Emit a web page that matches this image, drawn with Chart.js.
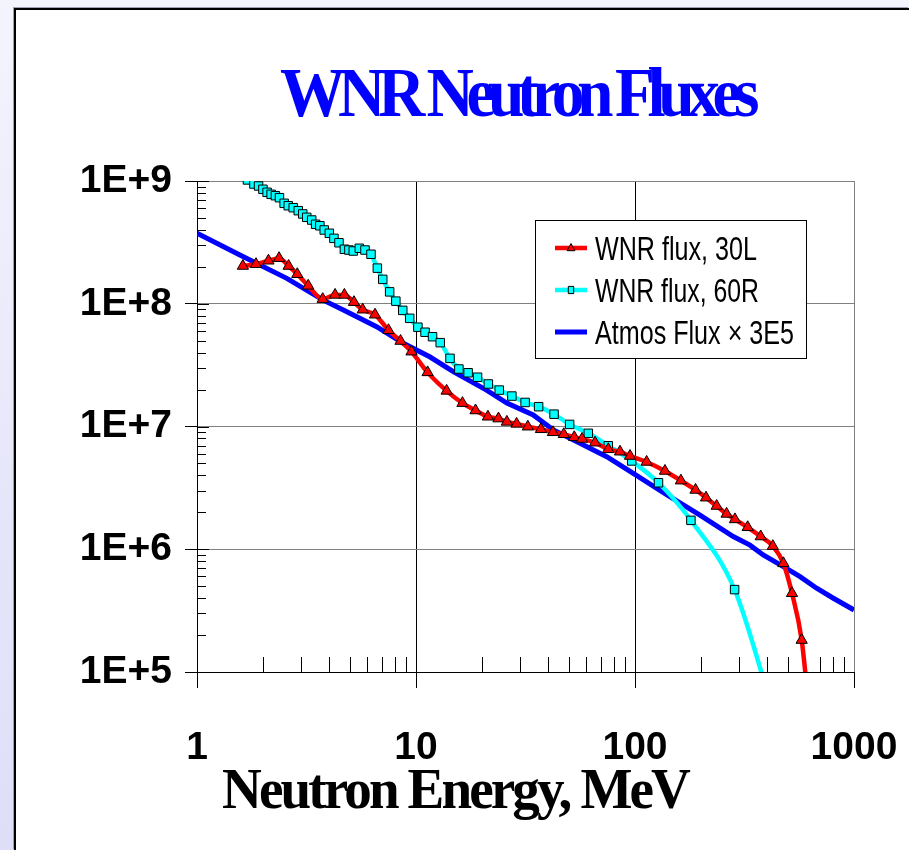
<!DOCTYPE html>
<html>
<head>
<meta charset="utf-8">
<title>WNR Neutron Fluxes</title>
<script src="https://cdn.jsdelivr.net/npm/chart.js@4.4.1/dist/chart.umd.min.js"></script>
<style>
html, body { margin: 0; padding: 0; }
body {
    width: 909px; height: 850px; overflow: hidden; position: relative;
    background: linear-gradient(to bottom, #f4f4fd 0%, #e6e6fa 60%, #dedef8 100%);
}
#panel {
    position: absolute; left: 14px; top: 8px; right: 0; bottom: 0;
    background: #fff;
    border-left: 2px solid #000; border-top: 2px solid #000;
    box-shadow: -1px -1px 0 #a0a0b0;
}
#chart { position: absolute; left: 0; top: 0; }
</style>
</head>
<body>
<div id="panel"></div>
<canvas id="chart" width="909" height="850"></canvas>
<script>
// Series: neutron energy (MeV) and flux
const energy30L = [1.62, 1.86, 2.12, 2.37, 2.62, 2.87, 3.22, 3.75, 4.27, 4.71,
    5.21, 5.71, 6.5, 7.49, 8.5, 9.54, 11.3, 13.8, 16.3, 18.7,
    21.3, 23.8, 26, 28.8, 32.4, 37.2, 42.2, 47.3, 52.8, 57.3,
    65.7, 75.5, 85.4, 94.9, 113, 137, 162, 189, 211, 236,
    262, 286, 327, 375, 426, 476, 521, 577, 617];
const flux30L = [2.03e8, 2.10e8, 2.24e8, 2.35e8, 2.03e8, 1.74e8, 1.40e8, 1.09e8, 1.18e8, 1.18e8,
    1.03e8, 8.94e7, 8.14e7, 6.08e7, 4.97e7, 4.07e7, 2.76e7, 1.95e7, 1.55e7, 1.35e7,
    1.20e7, 1.16e7, 1.09e7, 1.05e7, 9.96e6, 9.49e6, 8.97e6, 8.64e6, 8.17e6, 7.91e6,
    7.38e6, 6.52e6, 6.23e6, 5.75e6, 5.14e6, 4.34e6, 3.62e6, 3.04e6, 2.63e6, 2.25e6,
    1.94e6, 1.75e6, 1.51e6, 1.27e6, 1.06e6, 7.68e5, 4.38e5, 1.82e5, 5.9e4];

const energy60R = [1.51, 1.70, 1.82, 1.91, 2.00, 2.09, 2.18, 2.28, 2.38, 2.50,
    2.61, 2.75, 2.90, 3.04, 3.17, 3.34, 3.48, 3.64, 3.81, 4.02,
    4.22, 4.45, 4.71, 4.94, 5.17, 5.51, 5.85, 6.23, 6.66, 7.05,
    7.58, 8.09, 8.70, 9.36, 10.2, 11.0, 11.9, 12.9, 14.3, 15.7,
    17.3, 19.1, 21.4, 24.0, 27.4, 31.5, 36.3, 42.7, 50.3, 61.2,
    75.5, 96.6, 128, 180, 285, 413];
const flux60R = [1.18e9, 1.02e9, 9.45e8, 9.11e8, 8.56e8, 8.09e8, 7.79e8, 7.59e8, 7.31e8, 6.58e8,
    6.29e8, 6.06e8, 5.73e8, 5.39e8, 5.06e8, 4.81e8, 4.44e8, 4.32e8, 3.99e8, 3.75e8,
    3.41e8, 3.14e8, 2.78e8, 2.74e8, 2.69e8, 2.83e8, 2.74e8, 2.53e8, 1.95e8, 1.58e8,
    1.25e8, 1.05e8, 8.83e7, 7.61e7, 6.44e7, 5.86e7, 5.39e7, 4.82e7, 3.59e7, 2.94e7,
    2.74e7, 2.52e7, 2.22e7, 1.98e7, 1.77e7, 1.57e7, 1.45e7, 1.26e7, 1.04e7, 8.80e6,
    6.97e6, 5.24e6, 3.48e6, 1.72e6, 4.69e5, 5.9e4];

const energyAtmos = [1, 1.57, 2.57, 3.77, 4.66, 6.61, 8.75, 11.6, 14.8, 21.0,
    26.0, 34.3, 42.4, 56.1, 74.3, 98.2, 140, 198, 281, 335,
    385, 476, 567, 675, 805, 1000];
const fluxAtmos = [3.75e8, 2.50e8, 1.61e8, 1.07e8, 8.89e7, 6.50e7, 4.76e7, 3.68e7, 2.80e7, 1.98e7,
    1.55e7, 1.24e7, 9.37e6, 7.30e6, 5.68e6, 4.16e6, 2.77e6, 1.90e6, 1.27e6, 1.08e6,
    8.98e5, 7.21e5, 5.98e5, 4.81e5, 3.99e5, 3.20e5];

const seriesLabels = ['WNR flux, 30L', 'WNR flux, 60R', 'Atmos Flux \u00d7 3E5'];
const xTicks = [1, 10, 100, 1000];
const xTickLabels = ['1', '10', '100', '1000'];
const yTicks = [1e5, 1e6, 1e7, 1e8, 1e9];
const yTickLabels = ['1E+5', '1E+6', '1E+7', '1E+8', '1E+9'];
const minorSteps = [2, 3, 4, 5, 6, 7, 8, 9];
const chartTitle = 'WNR Neutron Fluxes';
const xAxisTitle = 'Neutron Energy, MeV';

const toPoints = (xs, ys) => xs.map((x, i) => ({ x: x, y: ys[i] }));

// hide markers that fall outside the plotted range
function markerRadius(r) {
    return function(ctx) {
        const v = ctx.raw ? ctx.raw.y : null;
        return v !== null && v >= yTicks[0] && v <= yTicks[yTicks.length - 1] * 1.05 ? r : 0;
    };
}

// draw text squeezed horizontally (the original fonts are very condensed)
function drawSqueezed(ctx, text, x, y, opts) {
    ctx.save();
    ctx.font = opts.font;
    ctx.fillStyle = opts.color || '#000';
    ctx.textBaseline = 'alphabetic';
    ctx.textAlign = 'left';
    if ('letterSpacing' in ctx) ctx.letterSpacing = (opts.spacing || 0) + 'px';
    const w = ctx.measureText(text).width;
    const sx = opts.width ? opts.width / w : (opts.scale || 1);
    const left = opts.align === 'center' ? x - w * sx / 2 : x;
    ctx.translate(left, y);
    ctx.scale(sx, 1);
    ctx.fillText(text, 0, 0);
    ctx.restore();
}

function drawMarker(ctx, style, x, y, r, fill) {
    ctx.save();
    ctx.fillStyle = fill;
    ctx.strokeStyle = '#000';
    ctx.lineWidth = 1;
    ctx.beginPath();
    if (style === 'triangle') {
        ctx.moveTo(x, y - r);
        ctx.lineTo(x + r * 0.87, y + r * 0.6);
        ctx.lineTo(x - r * 0.87, y + r * 0.6);
        ctx.closePath();
    } else {
        ctx.rect(x - r * 0.6, y - r * 0.8, r * 1.2, r * 1.6);
    }
    ctx.fill();
    ctx.stroke();
    ctx.restore();
}

const decorPlugin = {
    id: 'decor',
    beforeDatasetsDraw(chart) {
        const ctx = chart.ctx;
        const xs = chart.scales.x, ys = chart.scales.y;
        const area = chart.chartArea;
        ctx.save();
        ctx.strokeStyle = '#000';
        ctx.lineWidth = 1;
        ctx.beginPath();
        // minor ticks on the energy axis, pointing into the plot
        xTicks.slice(0, -1).forEach(d => {
            minorSteps.forEach(k => {
                const px = Math.round(xs.getPixelForValue(d * k)) + 0.5;
                ctx.moveTo(px, area.bottom);
                ctx.lineTo(px, area.bottom - 15);
            });
        });
        // minor and major ticks on the flux axis
        yTicks.forEach((d, i) => {
            const py = Math.round(ys.getPixelForValue(d)) + 0.5;
            ctx.moveTo(area.left, py);
            ctx.lineTo(area.left + 12, py);
            if (i === yTicks.length - 1) return;
            minorSteps.forEach(k => {
                const p = Math.round(ys.getPixelForValue(d * k)) + 0.5;
                ctx.moveTo(area.left, p);
                ctx.lineTo(area.left + 9, p);
            });
        });
        ctx.stroke();
        ctx.restore();
    },
    afterDraw(chart) {
        const ctx = chart.ctx;
        drawSqueezed(ctx, chartTitle, 516, 116, {
            font: 'bold 70px "Liberation Serif", "Times New Roman", serif',
            color: '#0000ff', spacing: -8, width: 472, align: 'center'
        });
        drawSqueezed(ctx, xAxisTitle, 455, 808, {
            font: 'bold 57px "Liberation Serif", "Times New Roman", serif',
            color: '#000', spacing: -3, width: 466, align: 'center'
        });

        // legend box
        ctx.save();
        ctx.fillStyle = '#fff';
        ctx.fillRect(535.5, 220.5, 271, 138);
        ctx.strokeStyle = '#000';
        ctx.lineWidth = 1;
        ctx.strokeRect(535.5, 220.5, 271, 138);
        ctx.restore();

        chart.data.datasets.forEach((ds, i) => {
            const base = 260 + i * 42;
            const ly = base - 12;
            ctx.save();
            ctx.strokeStyle = ds.borderColor;
            ctx.lineWidth = ds.borderWidth;
            ctx.beginPath();
            ctx.moveTo(555, ly);
            ctx.lineTo(587, ly);
            ctx.stroke();
            ctx.restore();
            if (ds.pointStyle === 'triangle' || ds.pointStyle === 'rect') {
                drawMarker(ctx, ds.pointStyle, 571, ly, 4.5, ds.pointBackgroundColor);
            }
            drawSqueezed(ctx, ds.label, 595, base, {
                font: '34px "Liberation Sans", Arial, sans-serif',
                color: '#000', width: [162, 164, 199][i]
            });
        });
    }
};

const tickFont = { family: '"Liberation Sans", Arial, sans-serif', weight: 'bold', size: 39 };

new Chart(document.getElementById('chart').getContext('2d'), {
    type: 'line',
    data: {
        datasets: [{
            label: seriesLabels[0],
            data: toPoints(energy30L, flux30L),
            borderColor: '#ff0000',
            borderWidth: 4.5,
            pointStyle: 'triangle',
            pointRadius: markerRadius(6.5),
            pointBackgroundColor: '#ff0000',
            pointBorderColor: '#000',
            pointBorderWidth: 1,
            cubicInterpolationMode: 'monotone'
        }, {
            label: seriesLabels[1],
            data: toPoints(energy60R, flux60R),
            borderColor: '#00ffff',
            borderWidth: 4.5,
            pointStyle: 'rect',
            pointRadius: markerRadius(6),
            pointBackgroundColor: '#00ffff',
            pointBorderColor: '#000',
            pointBorderWidth: 1,
            cubicInterpolationMode: 'monotone'
        }, {
            label: seriesLabels[2],
            data: toPoints(energyAtmos, fluxAtmos),
            borderColor: '#0000ff',
            borderWidth: 5,
            pointRadius: 0,
            tension: 0
        }]
    },
    options: {
        responsive: false,
        animation: false,
        devicePixelRatio: 1,
        layout: { padding: { top: 181, right: 55, bottom: 0, left: 0 } },
        plugins: {
            legend: { display: false },
            title: { display: false },
            tooltip: { enabled: false }
        },
        scales: {
            x: {
                type: 'logarithmic',
                min: xTicks[0],
                max: xTicks[xTicks.length - 1],
                afterBuildTicks: s => { s.ticks = xTicks.map(v => ({ value: v })); },
                afterFit: s => { s.height = 178; s.paddingLeft = 0; s.paddingRight = 0; },
                ticks: {
                    callback: v => xTickLabels[xTicks.indexOf(v)],
                    font: tickFont,
                    color: '#000',
                    padding: 37,
                    maxRotation: 0,
                    autoSkip: false
                },
                grid: {
                    color: c => (c.tick && c.tick.value === 1000) ? '#808080' : '#000',
                    lineWidth: 1,
                    tickLength: 16,
                    tickColor: '#000'
                },
                border: { color: '#000', width: 1 }
            },
            y: {
                type: 'logarithmic',
                min: yTicks[0],
                max: yTicks[yTicks.length - 1],
                afterBuildTicks: s => { s.ticks = yTicks.map(v => ({ value: v })); },
                afterFit: s => { s.width = 197; s.paddingTop = 0; s.paddingBottom = 0; },
                ticks: {
                    callback: v => yTickLabels[yTicks.indexOf(v)],
                    font: tickFont,
                    color: '#000',
                    padding: 13
                },
                grid: {
                    color: '#808080',
                    lineWidth: 1,
                    tickLength: 12,
                    tickColor: '#000'
                },
                border: { color: '#000', width: 1 }
            }
        }
    },
    plugins: [decorPlugin]
});
</script>
</body>
</html>
